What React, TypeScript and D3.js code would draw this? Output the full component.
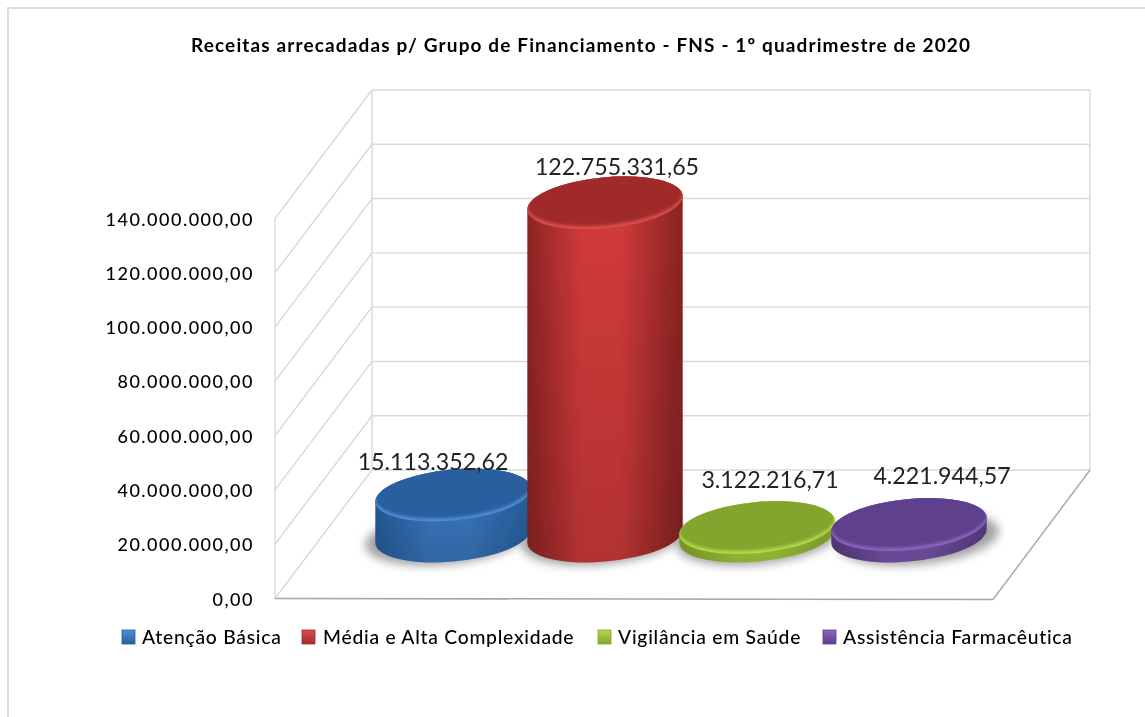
import React from "react";
import * as d3 from "d3";

const title = "Receitas arrecadadas p/ Grupo de Financiamento - FNS - 1º quadrimestre de 2020";
const categories = ["Atenção Básica", "Média e Alta Complexidade", "Vigilância em Saúde", "Assistência Farmacêutica"];
const values = [15113352.62, 122755331.65, 3122216.71, 4221944.57];
const valueLabels = ["15.113.352,62", "122.755.331,65", "3.122.216,71", "4.221.944,57"];
const ticks = [0, 20e6, 40e6, 60e6, 80e6, 100e6, 120e6, 140e6];
const tickLabels = ["0,00", "20.000.000,00", "40.000.000,00", "60.000.000,00", "80.000.000,00", "100.000.000,00", "120.000.000,00", "140.000.000,00"];
const sideStops = [
  ["#265c9c", "#3a7ac2", "#27609f"],
  ["#8f2424", "#d43b3b", "#8a2323"],
  ["#84a52c", "#a6cf3c", "#86a82e"],
  ["#553a80", "#7a55ae", "#563b82"],
];
const topFill = ["#2a5f9f", "#a02c2b", "#83a52e", "#5f3f8c"];
const rimFill = ["#4f8ed4", "#dc4f4b", "#b4da4c", "#8c65bd"];
const legendX = [122, 302, 598, 823];
const legendTextX = [142, 323, 618, 843];
const labelPos = [[433, 470], [617, 175], [770, 488], [942, 484]];
const shadowShift = [-7, -3, 0, 9];

const W = 1145, H = 717;
const y = d3.scaleLinear().domain([0, 140e6]).range([598.5, 218.5]);
const depth = { dx: 97, dy: -128.5 };
const floorLeft = 275, floorRight = 993;
const xCenter = d3.scalePoint<string>().domain(categories).range([453, 909]);
const A = 78, B = 25.5, TILT = -5.5;
const baseY = 536;
const px = y(0) - y(1e6);

function cylinder(cx: number, h: number) {
  const th = (TILT * Math.PI) / 180;
  const t = Math.atan((-B / A) * Math.tan(th));
  const tx = A * Math.cos(t) * Math.cos(th) - B * Math.sin(t) * Math.sin(th);
  const ty = A * Math.cos(t) * Math.sin(th) + B * Math.sin(t) * Math.cos(th);
  const top = baseY - h;
  const body = `M${cx - tx},${top - ty}L${cx - tx},${baseY - ty}A${A},${B} ${TILT} 0 0 ${cx + tx},${baseY + ty}L${cx + tx},${top + ty}A${A},${B} ${TILT} 0 0 ${cx - tx},${top - ty}Z`;
  return { body, top };
}

export default function App() {
  const font = "Lato, sans-serif";
  const grid = "#d9d9d9";
  return (
    <svg width={W} height={H} style={{ position: "absolute", left: 0, top: 0, background: "#fff" }}>
      <defs>
        <filter id="soft" x="-10%" y="-10%" width="120%" height="120%"><feGaussianBlur stdDeviation="0.6" /></filter>
        <filter id="txt" x="-5%" y="-20%" width="110%" height="140%"><feGaussianBlur stdDeviation="0.3" /></filter>
        <filter id="shadow" x="-30%" y="-60%" width="160%" height="220%"><feGaussianBlur stdDeviation="5" /></filter>
        <filter id="bevel" x="-10%" y="-30%" width="120%" height="160%"><feGaussianBlur stdDeviation="1.8" /></filter>
        <linearGradient id="fade" x1="0" x2="0" y1="0" y2="1">
          <stop offset="0" stopColor="#000" stopOpacity="0" />
          <stop offset="1" stopColor="#000" stopOpacity="0.16" />
        </linearGradient>
        {categories.map((c, i) => {
          const cx = xCenter(c)!;
          const top = baseY - (values[i] / 1e6) * px;
          return (
            <React.Fragment key={c}>
              <linearGradient id={`side${i}`} gradientUnits="userSpaceOnUse" x1={cx - A} x2={cx + A} y1={0} y2={0}>
                <stop offset="0" stopColor={sideStops[i][0]} />
                <stop offset="0.35" stopColor={sideStops[i][1]} />
                <stop offset="0.6" stopColor={sideStops[i][1]} />
                <stop offset="1" stopColor={sideStops[i][2]} />
              </linearGradient>
              <linearGradient id={`swatch${i}`} x1="0" x2="0" y1="0" y2="1">
                <stop offset="0" stopColor={rimFill[i]} />
                <stop offset="1" stopColor={topFill[i]} />
              </linearGradient>
              <clipPath id={`topClip${i}`}>
                <ellipse cx={cx} cy={top} rx={A} ry={B} transform={`rotate(${TILT} ${cx} ${top})`} />
              </clipPath>
            </React.Fragment>
          );
        })}
      </defs>
      <path d={`M8,${H}V8H${W}`} fill="none" stroke="#dcdcdc" strokeWidth={2} />
      {ticks.map((t) => (
        <g key={t} stroke={grid} strokeWidth={1.4} fill="none">
          <line x1={floorLeft} x2={floorLeft + depth.dx} y1={y(t)} y2={y(t) + depth.dy} />
          <line x1={floorLeft + depth.dx} x2={floorRight + depth.dx} y1={y(t) + depth.dy} y2={y(t) + depth.dy} />
        </g>
      ))}
      <line x1={floorLeft + depth.dx} x2={floorLeft + depth.dx} y1={y(0) + depth.dy} y2={y(140e6) + depth.dy} stroke={grid} strokeWidth={1.4} />
      <line x1={floorRight + depth.dx} x2={floorRight + depth.dx} y1={y(0) + depth.dy} y2={y(140e6) + depth.dy} stroke={grid} strokeWidth={1.4} />
      <line x1={floorLeft} x2={floorLeft} y1={y(0)} y2={y(140e6)} stroke={grid} strokeWidth={1.4} />
      <line x1={floorRight} x2={floorRight + depth.dx} y1={y(0) + 1} y2={y(0) + depth.dy} stroke="#a6a6a6" strokeWidth={1.4} />
      <line x1={floorLeft} x2={floorRight} y1={y(0)} y2={y(0) + 1} stroke="#a6a6a6" strokeWidth={1.6} />
      <g filter="url(#txt)">
        {ticks.map((t, i) => (
          <text key={t} x={254} y={y(t) + 7} textAnchor="end" fontFamily={font} fontSize={18} fontWeight={500} letterSpacing={1.5} fill="#000">{tickLabels[i]}</text>
        ))}
      </g>
      {categories.map((c, i) => {
        const cx = xCenter(c)! + shadowShift[i];
        return <ellipse key={c} cx={cx} cy={baseY + 2} rx={A + 3} ry={B + 1} transform={`rotate(${TILT} ${cx} ${baseY + 2})`} fill="#555" opacity={0.55} filter="url(#shadow)" />;
      })}
      {categories.map((c, i) => {
        const cx = xCenter(c)!;
        const { body, top } = cylinder(cx, (values[i] / 1e6) * px);
        return (
          <g key={c} filter="url(#soft)">
            <path d={body} fill={`url(#side${i})`} />
            <path d={body} fill="url(#fade)" />
            <ellipse cx={cx} cy={top} rx={A} ry={B} transform={`rotate(${TILT} ${cx} ${top})`} fill={rimFill[i]} />
            <g clipPath={`url(#topClip${i})`}>
              <ellipse cx={cx} cy={top - 3} rx={A} ry={B} transform={`rotate(${TILT} ${cx} ${top - 3})`} fill={topFill[i]} filter="url(#bevel)" />
            </g>
          </g>
        );
      })}
      <g filter="url(#txt)">
        {categories.map((c, i) => (
          <text key={c} x={labelPos[i][0]} y={labelPos[i][1]} textAnchor="middle" fontFamily={font} fontSize={23.2} fill="#222">{valueLabels[i]}</text>
        ))}
      </g>
      <g filter="url(#txt)">
        <text x={580.5} y={52} textAnchor="middle" fontFamily={font} fontSize={19} fontWeight={700} fill="#000" textLength={779}>{title}</text>
      </g>
      {categories.map((c, i) => (
        <rect key={c} x={legendX[i]} y={630} width={13} height={14} fill={`url(#swatch${i})`} stroke={topFill[i]} strokeWidth={0.8} />
      ))}
      <g filter="url(#txt)">
        {categories.map((c, i) => (
          <text key={c} x={legendTextX[i]} y={644} fontFamily={font} fontSize={19.3} fontWeight={500} letterSpacing={0.75} fill="#000">{c}</text>
        ))}
      </g>
    </svg>
  );
}
